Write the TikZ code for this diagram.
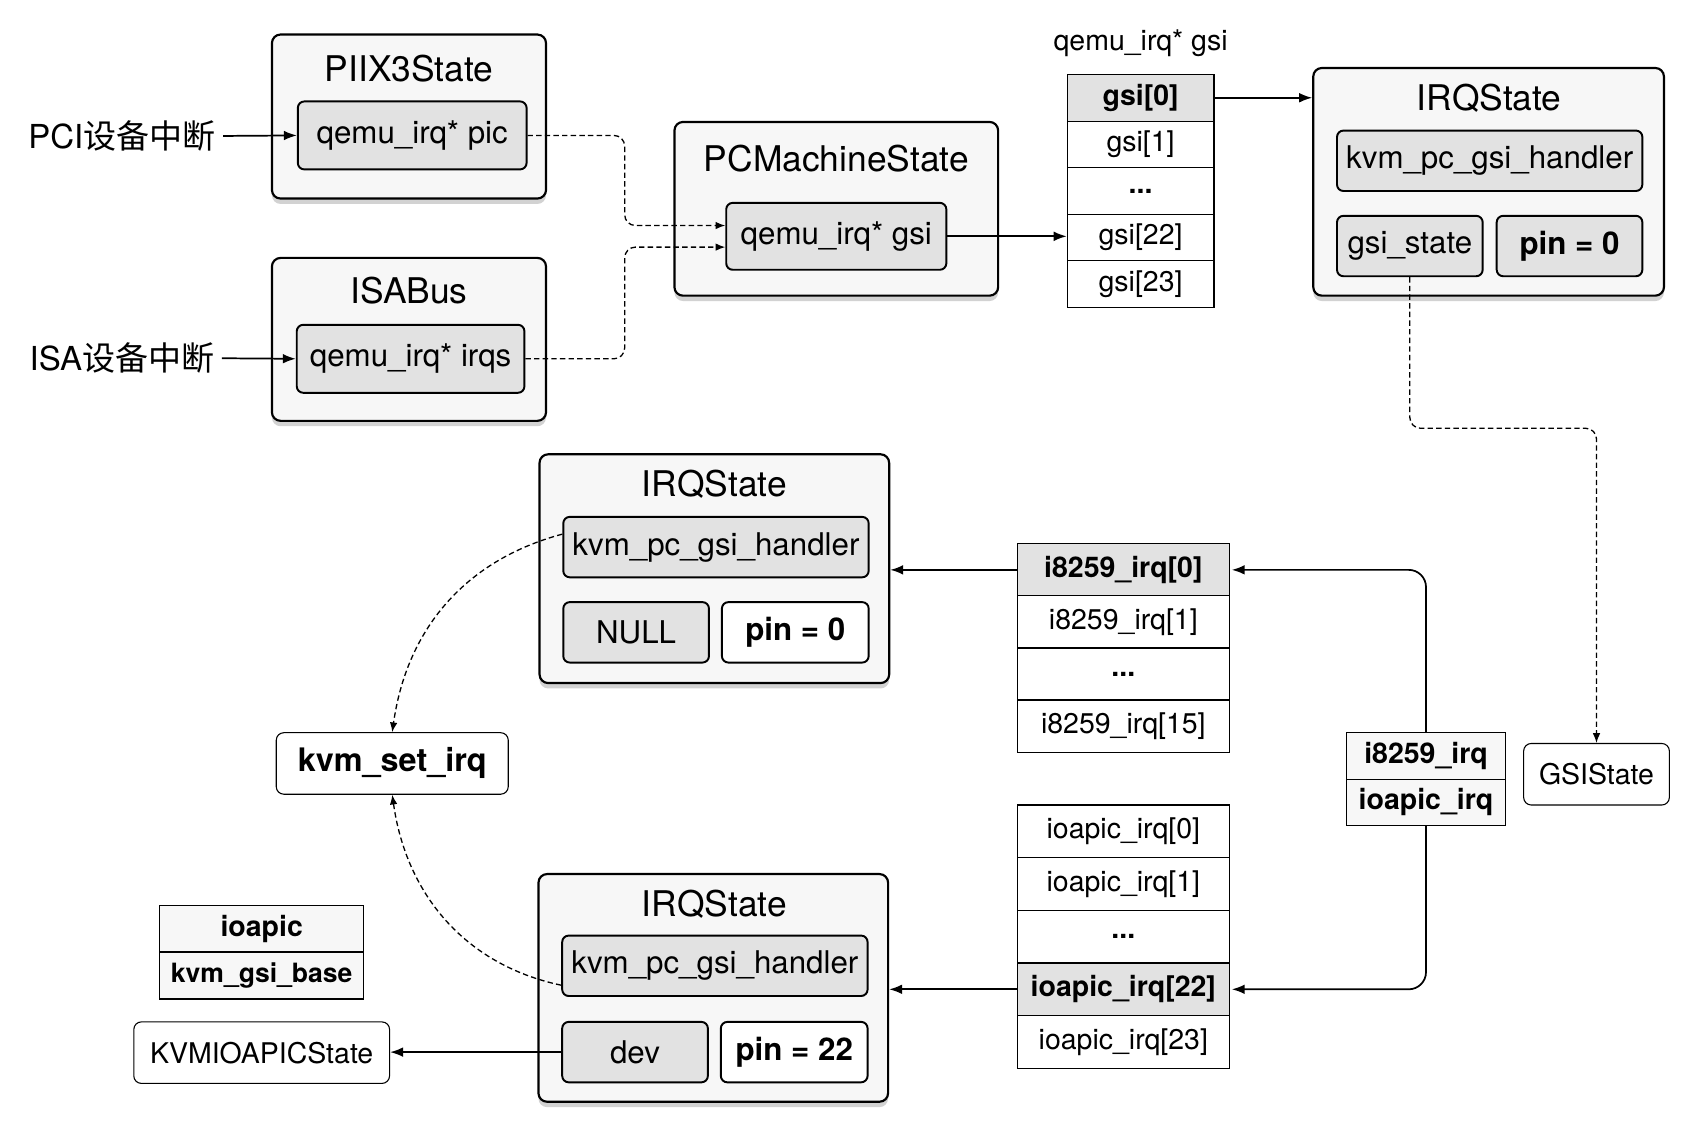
\documentclass[tikz,border=0pt]{standalone}
\usepackage{fontspec}
\setmainfont{TeX Gyre Heros}
\newfontfamily\cjk{Noto Sans CJK SC}
\usetikzlibrary{shadows,arrows.meta}

\definecolor{boxbg}{HTML}{F7F7F7}
\definecolor{fieldbg}{HTML}{E2E2E2}
\newcommand{\threedots}{{\bfseries ...}}

\tikzset{
  outerbox/.style={draw, line width=1pt, rounded corners=4pt, fill=boxbg, inner sep=0pt,
    drop shadow={shadow xshift=0pt, shadow yshift=-2.5pt, opacity=0.35}},
  title/.style={font=\fontsize{16.4}{18}\selectfont},
  field/.style={draw, line width=0.9pt, rounded corners=3pt, fill=fieldbg, inner sep=0pt,
    font=\fontsize{14.5}{16}\selectfont},
  pinbox/.style={field, fill=white, font=\fontsize{14.5}{16}\selectfont\bfseries},
  cell/.style={draw, line width=0.5pt, fill=white, inner sep=0pt, font=\fontsize{13.2}{15}\selectfont},
  hicell/.style={cell, fill=fieldbg, font=\fontsize{13.2}{15}\selectfont\bfseries},
  selcell/.style={cell, fill=boxbg, font=\fontsize{13.2}{15}\selectfont\bfseries},
  plain/.style={draw, line width=0.5pt, rounded corners=3.5pt, fill=white, inner sep=0pt,
    font=\fontsize{13.2}{15}\selectfont},
  src/.style={font=\fontsize{15.3}{17}\selectfont},
  solidarr/.style={->, line width=0.8pt},
  dasharr/.style={->, >={Latex[length=4.5pt,width=3.5pt]}, line width=0.6pt, dash pattern=on 2.5pt off 1.5pt}
}

\begin{document}
\begin{tikzpicture}[x=0.5pt,y=-0.5pt,>={Latex[length=6pt,width=4.5pt]}]
\fill[white] (0,0) rectangle (1568,1043);
\useasboundingbox (0,0) rectangle (1568,1043);

%% top left: PIIX3State, ISABus
\node[outerbox, minimum width=127pt, minimum height=76pt] (piix) at (379,108) {};
\node[title] (piixT) at (379,64) {PIIX3State};
\node[field, minimum width=106pt, minimum height=31.5pt] (piixpic) at (382,125.5) {qemu\_irq* pic};

\node[outerbox, minimum width=127pt, minimum height=75.5pt] (isab) at (379,314.5) {};
\node[title] (isabT) at (379,269) {ISABus};
\node[field, minimum width=105.5pt, minimum height=31.5pt] (isairqs) at (380.5,332.5) {qemu\_irq* irqs};

\node[src] (pci) at (113,126) {PCI{\cjk 设备中断}};
\node[src] (isa) at (113,332) {ISA{\cjk 设备中断}};
\draw[solidarr] (pci.east) -- (piixpic.west);
\draw[solidarr] (isa.east) -- (isairqs.west);

%% PCMachineState
\node[outerbox, minimum width=150pt, minimum height=80.5pt] (pcm) at (775,193.5) {};
\node[title] (pcmT) at (775,147) {PCMachineState};
\node[field, minimum width=102pt, minimum height=31pt] (pcgsi) at (775,219) {qemu\_irq* gsi};

\draw[dasharr, rounded corners=5pt] (piixpic.east) -- ++(90,0) |- ([yshift=5pt]pcgsi.west);
\draw[dasharr, rounded corners=5pt] (isairqs.east) -- ++(92,0) |- ([yshift=-5pt]pcgsi.west);

%% gsi array
\node[font=\fontsize{13.2}{15}\selectfont] (gsiT) at (1057,40) {qemu\_irq* gsi};
\foreach \txt/\sty [count=\i from 0] in {gsi[0]/hicell, gsi[1]/cell, \threedots/cell, gsi[22]/cell, gsi[23]/cell}
        \node[\sty, minimum width=68pt, minimum height=21.6pt] (gsi\i) at (1057,{90.6+43.2*\i}) {\txt};

\draw[solidarr] (pcgsi.east) -- (pcgsi.east -| gsi3.west);

%% IRQState (gsi[0])
\node[outerbox, minimum width=162.5pt, minimum height=105.5pt] (irqA) at (1379.5,168.5) {};
\node[title] (irqAT) at (1380,91) {IRQState};
\node[field, minimum width=141.5pt, minimum height=28pt] (hdlA) at (1380.5,149) {kvm\_pc\_gsi\_handler};
\node[field, minimum width=67.5pt, minimum height=28pt] (gsis) at (1306.5,228) {gsi\_state};
\node[field, minimum width=67.5pt, minimum height=28pt, font=\fontsize{14.5}{16}\selectfont\bfseries] (pinA) at (1454.5,228) {pin = 0};

\draw[solidarr] (gsi0.east) -- (gsi0.east -| irqA.west);

\node[plain, minimum width=67.5pt, minimum height=28.5pt] (gsistate) at (1479.5,717.5) {GSIState};
\draw[dasharr, rounded corners=5pt] (gsis.south) -- ++(0,140) -| (gsistate.north);

%% IRQState (i8259)
\node[outerbox, minimum width=162pt, minimum height=106pt] (irqB) at (662,527) {};
\node[title] (irqBT) at (662,449) {IRQState};
\node[field, minimum width=141.5pt, minimum height=28pt] (hdlB) at (663.5,507) {kvm\_pc\_gsi\_handler};
\node[field, minimum width=67.5pt, minimum height=28pt] (nullB) at (589.5,586) {NULL};
\node[pinbox, minimum width=68pt, minimum height=28pt] (pinB) at (737,586) {pin = 0};

\foreach \txt/\sty [count=\i from 0] in {i8259\_irq[0]/hicell, i8259\_irq[1]/cell, \threedots/cell, i8259\_irq[15]/cell}
        \node[\sty, minimum width=98pt, minimum height=24.1pt] (ipic\i) at (1041,{528.1+48.25*\i}) {\txt};

\draw[solidarr] (ipic0.west) -- (ipic0.west -| irqB.east);

%% i8259_irq / ioapic_irq
\node[selcell, minimum width=73.5pt, minimum height=21.5pt] (selA) at (1321.5,700.5) {i8259\_irq};
\node[selcell, minimum width=73.5pt, minimum height=21.5pt] (selB) at (1321.5,743.5) {ioapic\_irq};

%% ioapic array
\foreach \txt/\sty [count=\i from 0] in {ioapic\_irq[0]/cell, ioapic\_irq[1]/cell, \threedots/cell, ioapic\_irq[22]/hicell, ioapic\_irq[23]/cell}
        \node[\sty, minimum width=98pt, minimum height=24.4pt] (ioa\i) at (1041,{770.4+48.8*\i}) {\txt};

\draw[solidarr, rounded corners=8pt] (selA.north) |- ([xshift=1pt]ipic0.east);
\draw[solidarr, rounded corners=8pt] (selB.south) |- ([xshift=1pt]ioa3.east);

%% IRQState (ioapic)
\node[outerbox, minimum width=162pt, minimum height=105.5pt] (irqC) at (661,915.5) {};
\node[title] (irqCT) at (662,838) {IRQState};
\node[field, minimum width=141.5pt, minimum height=28pt] (hdlC) at (662.5,895) {kvm\_pc\_gsi\_handler};
\node[field, minimum width=67.5pt, minimum height=28pt] (dev) at (588.5,975) {dev};
\node[pinbox, minimum width=68pt, minimum height=28pt] (pinC) at (736,975) {pin = 22};

\draw[solidarr] (ioa3.west) -- (ioa3.west -| irqC.east);

%% left column
\node[plain, minimum width=107.5pt, minimum height=28.5pt, font=\fontsize{15}{17}\selectfont\bfseries] (setirq) at (363.5,707.5) {kvm\_set\_irq};
\node[selcell, minimum width=94.5pt, minimum height=21.75pt] (ioapicA) at (242.5,860.5) {ioapic};
\node[selcell, minimum width=94.5pt, minimum height=21.75pt, font=\fontsize{12.3}{14}\selectfont\bfseries] (ioapicB) at (242.5,904) {kvm\_gsi\_base};
\node[plain, minimum width=118.5pt, minimum height=28.5pt] (kvmio) at (242.5,975.5) {KVMIOAPICState};

\draw[dasharr] ([yshift=6pt]hdlB.west) to[out=195,in=82] (setirq.north);
\draw[dasharr] ([yshift=-9pt]hdlC.west) to[out=168,in=-82] (setirq.south);
\draw[solidarr] (dev.west) -- (dev.west -| kvmio.east);
\end{tikzpicture}
\end{document}
